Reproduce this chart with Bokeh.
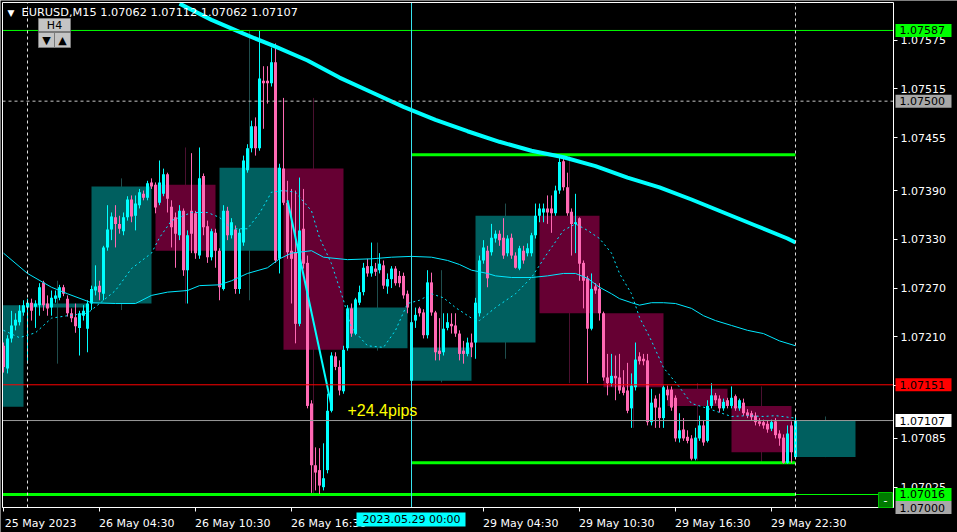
from bokeh.plotting import figure
from bokeh.models import (Range1d, FixedTicker, PrintfTickFormatter, Label,
                          BoxAnnotation, ColumnDataSource, LinearAxis)
from bokeh.embed import file_html
from bokeh.resources import INLINE

# ---------------- data (M15 bars, index 0 = 25 May 22:30) ----------------
bar_index = list(range(199))
open_ = [
 1.07199,1.07171,1.07208,1.07224,1.07228,1.07240,1.07246,1.07252,1.07247,1.07249,
 1.07277,1.07251,1.07246,1.07257,1.07258,1.07271,1.07257,1.07239,1.07234,1.07221,
 1.07236,1.07220,1.07251,1.07267,1.07273,1.07263,1.07320,1.07342,1.07357,1.07349,
 1.07340,1.07357,1.07379,1.07359,1.07372,1.07386,1.07381,1.07400,1.07397,1.07375,
 1.07386,1.07410,1.07370,1.07357,1.07335,1.07365,1.07292,1.07365,1.07362,1.07310,
 1.07408,1.07346,1.07308,1.07338,1.07316,1.07269,1.07365,1.07335,1.07342,1.07269,
 1.07326,1.07415,1.07442,1.07469,1.07442,1.07525,1.07525,1.07522,1.07548,1.07306,
 1.07417,1.07375,1.07316,1.07314,1.07226,1.07343,1.07301,1.07128,1.07052,1.07046,
 1.07025,1.07046,1.07119,1.07186,1.07173,1.07143,1.07196,1.07245,1.07214,1.07252,
 1.07265,1.07297,1.07288,1.07294,1.07292,1.07298,1.07272,1.07281,1.07294,1.07285,
 1.07285,1.07263,1.07156,1.07230,1.07245,1.07240,1.07212,1.07277,1.07240,1.07193,
 1.07191,1.07221,1.07226,1.07224,1.07214,1.07193,1.07189,1.07203,1.07203,1.07239,
 1.07304,1.07316,1.07314,1.07331,1.07337,1.07332,1.07313,1.07332,1.07310,1.07294,
 1.07316,1.07313,1.07313,1.07335,1.07359,1.07363,1.07368,1.07368,1.07362,1.07390,
 1.07426,1.07394,1.07364,1.07349,1.07356,1.07301,1.07282,1.07220,1.07272,1.07269,
 1.07239,1.07160,1.07153,1.07162,1.07160,1.07148,1.07144,1.07122,1.07148,1.07186,
 1.07183,1.07181,1.07105,1.07134,1.07123,1.07110,1.07145,1.07145,1.07135,1.07085,
 1.07096,1.07087,1.07085,1.07060,1.07085,1.07101,1.07082,1.07125,1.07138,1.07134,
 1.07122,1.07132,1.07125,1.07137,1.07122,1.07129,1.07117,1.07116,1.07113,1.07106,
 1.07105,1.07103,1.07097,1.07106,1.07091,1.07086,1.07055,1.07101,1.07062]
high_ = [
 1.07203,1.07212,1.07242,1.07239,1.07249,1.07255,1.07257,1.07257,1.07255,1.07276,
 1.07279,1.07261,1.07267,1.07267,1.07274,1.07274,1.07261,1.07245,1.07251,1.07242,
 1.07249,1.07255,1.07273,1.07298,1.07279,1.07322,1.07372,1.07363,1.07372,1.07359,
 1.07363,1.07383,1.07384,1.07384,1.07392,1.07390,1.07402,1.07405,1.07400,1.07427,
 1.07417,1.07412,1.07378,1.07363,1.07372,1.07368,1.07341,1.07436,1.07365,1.07443,
 1.07411,1.07353,1.07343,1.07343,1.07319,1.07372,1.07370,1.07356,1.07347,1.07343,
 1.07433,1.07447,1.07476,1.07480,1.07587,1.07543,1.07543,1.07566,1.07571,1.07423,
 1.07504,1.07402,1.07392,1.07390,1.07406,1.07392,1.07310,1.07132,1.07074,1.07073,
 1.07079,1.07140,1.07191,1.07191,1.07181,1.07199,1.07249,1.07251,1.07258,1.07273,
 1.07301,1.07306,1.07326,1.07301,1.07313,1.07304,1.07288,1.07297,1.07297,1.07291,
 1.07289,1.07267,1.07233,1.07246,1.07247,1.07244,1.07292,1.07289,1.07242,1.07233,
 1.07239,1.07239,1.07239,1.07239,1.07218,1.07205,1.07209,1.07214,1.07258,1.07310,
 1.07329,1.07322,1.07349,1.07341,1.07341,1.07356,1.07335,1.07337,1.07314,1.07322,
 1.07322,1.07325,1.07338,1.07374,1.07374,1.07374,1.07384,1.07384,1.07396,1.07434,
 1.07431,1.07412,1.07368,1.07386,1.07357,1.07304,1.07285,1.07288,1.07276,1.07276,
 1.07241,1.07189,1.07189,1.07187,1.07189,1.07169,1.07178,1.07165,1.07203,1.07191,
 1.07189,1.07189,1.07146,1.07138,1.07140,1.07150,1.07150,1.07149,1.07138,1.07116,
 1.07110,1.07095,1.07089,1.07098,1.07113,1.07107,1.07132,1.07153,1.07141,1.07138,
 1.07134,1.07135,1.07149,1.07139,1.07134,1.07134,1.07121,1.07119,1.07117,1.07110,
 1.07108,1.07107,1.07108,1.07110,1.07095,1.07090,1.07101,1.07106,1.07112]
low_ = [
 1.07166,1.07165,1.07203,1.07218,1.07224,1.07236,1.07177,1.07230,1.07221,1.07236,
 1.07242,1.07236,1.07236,1.07252,1.07255,1.07260,1.07235,1.07228,1.07215,1.07187,
 1.07230,1.07191,1.07243,1.07261,1.07255,1.07255,1.07316,1.07329,1.07320,1.07337,
 1.07335,1.07353,1.07351,1.07341,1.07368,1.07378,1.07378,1.07392,1.07362,1.07372,
 1.07383,1.07363,1.07320,1.07295,1.07329,1.07285,1.07251,1.07313,1.07306,1.07306,
 1.07335,1.07301,1.07304,1.07295,1.07255,1.07267,1.07329,1.07331,1.07263,1.07263,
 1.07322,1.07412,1.07437,1.07433,1.07439,1.07466,1.07497,1.07518,1.07301,1.07288,
 1.07372,1.07306,1.07251,1.07202,1.07223,1.07294,1.07122,1.07018,1.07021,1.07016,
 1.07021,1.07042,1.07117,1.07169,1.07138,1.07140,1.07193,1.07210,1.07212,1.07249,
 1.07261,1.07284,1.07284,1.07285,1.07288,1.07269,1.07263,1.07270,1.07273,1.07271,
 1.07257,1.07239,1.07154,1.07221,1.07235,1.07208,1.07208,1.07236,1.07181,1.07181,
 1.07187,1.07218,1.07214,1.07210,1.07181,1.07177,1.07186,1.07185,1.07183,1.07235,
 1.07300,1.07271,1.07310,1.07326,1.07322,1.07306,1.07309,1.07306,1.07294,1.07292,
 1.07300,1.07309,1.07309,1.07331,1.07351,1.07351,1.07349,1.07338,1.07359,1.07386,
 1.07390,1.07359,1.07310,1.07313,1.07279,1.07245,1.07153,1.07218,1.07263,1.07230,
 1.07156,1.07138,1.07149,1.07132,1.07140,1.07138,1.07116,1.07098,1.07144,1.07176,
 1.07175,1.07101,1.07101,1.07098,1.07098,1.07098,1.07132,1.07119,1.07081,1.07080,
 1.07082,1.07079,1.07058,1.07058,1.07082,1.07076,1.07080,1.07122,1.07128,1.07117,
 1.07119,1.07122,1.07122,1.07119,1.07119,1.07113,1.07110,1.07107,1.07101,1.07100,
 1.07097,1.07092,1.07094,1.07085,1.07076,1.07054,1.07054,1.07055,1.07062]
close_ = [
 1.07173,1.07208,1.07224,1.07231,1.07242,1.07249,1.07252,1.07242,1.07251,1.07271,
 1.07249,1.07245,1.07258,1.07261,1.07271,1.07263,1.07239,1.07233,1.07223,1.07239,
 1.07242,1.07251,1.07269,1.07272,1.07265,1.07320,1.07342,1.07358,1.07349,1.07343,
 1.07357,1.07379,1.07358,1.07374,1.07388,1.07381,1.07399,1.07395,1.07369,1.07400,
 1.07410,1.07380,1.07345,1.07337,1.07365,1.07292,1.07335,1.07337,1.07313,1.07405,
 1.07345,1.07308,1.07340,1.07316,1.07271,1.07365,1.07335,1.07351,1.07269,1.07338,
 1.07427,1.07442,1.07469,1.07442,1.07528,1.07522,1.07522,1.07548,1.07304,1.07418,
 1.07375,1.07314,1.07306,1.07226,1.07341,1.07300,1.07125,1.07052,1.07043,1.07027,
 1.07036,1.07119,1.07187,1.07173,1.07144,1.07194,1.07245,1.07214,1.07256,1.07265,
 1.07295,1.07288,1.07297,1.07290,1.07300,1.07273,1.07281,1.07294,1.07276,1.07276,
 1.07261,1.07246,1.07228,1.07237,1.07239,1.07212,1.07277,1.07240,1.07191,1.07189,
 1.07220,1.07228,1.07223,1.07214,1.07189,1.07189,1.07203,1.07197,1.07252,1.07304,
 1.07320,1.07282,1.07332,1.07337,1.07329,1.07310,1.07331,1.07310,1.07295,1.07319,
 1.07304,1.07319,1.07335,1.07359,1.07368,1.07368,1.07363,1.07362,1.07390,1.07425,
 1.07394,1.07362,1.07349,1.07351,1.07300,1.07279,1.07220,1.07269,1.07267,1.07239,
 1.07160,1.07153,1.07162,1.07159,1.07144,1.07141,1.07119,1.07150,1.07182,1.07180,
 1.07180,1.07105,1.07129,1.07123,1.07110,1.07148,1.07138,1.07123,1.07085,1.07095,
 1.07085,1.07082,1.07060,1.07086,1.07101,1.07080,1.07125,1.07138,1.07132,1.07122,
 1.07130,1.07125,1.07135,1.07122,1.07132,1.07116,1.07113,1.07111,1.07105,1.07103,
 1.07101,1.07096,1.07105,1.07089,1.07085,1.07055,1.07091,1.07068,1.07107]

# H4 candles drawn as boxes (bar-index span)
h4_start = [-10, 6, 22, 38, 54, 70, 86, 102, 118, 134, 150, 166, 182, 198]
h4_end = [5, 21, 37, 53, 69, 85, 101, 117, 133, 149, 165, 181, 197, 213]
h4_open = [1.07124, 1.07246, 1.07251, 1.07397, 1.07316, 1.07417, 1.07196,
           1.07156, 1.07203, 1.07359, 1.07239, 1.07146, 1.07125, 1.07062]
h4_close = [1.07249, 1.07251, 1.07395, 1.07316, 1.07418, 1.07194, 1.07246,
            1.07197, 1.07359, 1.07239, 1.07148, 1.07125, 1.07068, 1.07107]
h4_high = [1.07257, 1.07279, 1.07405, 1.07443, 1.07587, 1.07504, 1.07326,
           1.07292, 1.07374, 1.07434, 1.07203, 1.07153, 1.07149, 1.07112]
h4_low = [1.07118, 1.07177, 1.07243, 1.07251, 1.07255, 1.07016, 1.07193,
          1.07154, 1.07183, 1.07153, 1.07098, 1.07058, 1.07054, 1.07062]

# moving averages (bar index, value)
ma_slow_idx = [44, 52, 60, 68, 76, 84, 92, 100, 108, 116, 124, 132, 140,
               148, 156, 164, 172, 180, 188, 196, 198]
ma_slow = [1.07620, 1.07600, 1.07583, 1.07567, 1.07550, 1.07529, 1.07511,
           1.07493, 1.07477, 1.07463, 1.07450, 1.07439, 1.07431, 1.07420, 1.07406,
           1.07394, 1.07379, 1.07363, 1.07347, 1.07331, 1.07326]
ma_mid_idx = [0, 6, 12, 16, 22, 28, 33, 37, 41, 46, 49, 54, 57, 61, 66, 69, 72, 77,
              80, 86, 92, 97, 102, 107, 111, 114, 117, 121, 123, 127, 132, 136, 140,
              143, 146, 149, 152, 154, 157, 159, 162, 165, 168, 172, 175, 178, 182,
              186, 190, 194, 198]
ma_mid = [1.07313, 1.07288, 1.07271, 1.07263, 1.07252, 1.07251, 1.07251, 1.07261,
          1.07265, 1.07267, 1.07273, 1.07274, 1.07279, 1.07288, 1.07295, 1.07306,
          1.07313, 1.07316, 1.07308, 1.07305, 1.07306, 1.07308, 1.07309, 1.07308,
          1.07304, 1.07299, 1.07292, 1.07288, 1.07285, 1.07283, 1.07283, 1.07285,
          1.07288, 1.07288, 1.07282, 1.07271, 1.07263, 1.07257, 1.07252, 1.07249,
          1.07252, 1.07252, 1.07251, 1.07245, 1.07236, 1.07230, 1.07224, 1.07218,
          1.07214, 1.07205, 1.07199]
ma_fast_idx = [0, 4, 8, 12, 16, 21, 24, 28, 32, 37, 39, 42, 47, 51, 54, 57, 61, 64,
               67, 70, 73, 77, 79, 82, 85, 87, 91, 95, 98, 101, 104, 107, 110, 113,
               117, 119, 123, 128, 132, 136, 140, 143, 146, 149, 152, 154, 157, 159,
               162, 165, 169, 172, 176, 179, 182, 186, 190, 193, 198]
ma_fast = [1.07218, 1.07209, 1.07215, 1.07233, 1.07236, 1.07239, 1.07251, 1.07267,
           1.07294, 1.07313, 1.07332, 1.07353, 1.07363, 1.07363, 1.07357, 1.07343,
           1.07343, 1.07362, 1.07388, 1.07390, 1.07388, 1.07365, 1.07332, 1.07300,
           1.07255, 1.07221, 1.07199, 1.07197, 1.07218, 1.07251, 1.07255, 1.07263,
           1.07258, 1.07246, 1.07233, 1.07230, 1.07246, 1.07263, 1.07283, 1.07313,
           1.07341, 1.07349, 1.07341, 1.07331, 1.07313, 1.07288, 1.07263, 1.07234,
           1.07205, 1.07172, 1.07148, 1.07128, 1.07122, 1.07117, 1.07112, 1.07113,
           1.07112, 1.07113, 1.07110]

# drawn objects
zz_idx = [71, 82]
zz_price = [1.07378, 1.07125]
pips_text = "+24.4pips"
pips_idx, pips_price = 86, 1.07119
day_high_prev, day_low_prev = 1.07587, 1.07016
day_high_cur, day_low_cur = 1.07434, 1.07055
level_500 = [1.07500, 1.07000]
alert_price = 1.07151
bid_price = 1.07107
day_sep_idx = [6, 198]
cursor_idx = 102
cursor_text = "2023.05.29 00:00"
symbol_text = "EURUSD,M15  1.07062 1.07112 1.07062 1.07107"

# axes ticks
price_ticks = [1.07025, 1.07085, 1.07150, 1.07210, 1.07270, 1.07330, 1.07390,
               1.07455, 1.07515, 1.07575]
time_ticks = [0, 24, 48, 72, 120, 144, 168, 192]
time_labels = ["25 May 2023", "26 May 04:30", "26 May 10:30", "26 May 16:30",
               "29 May 04:30", "29 May 10:30", "29 May 16:30", "29 May 22:30"]
tag_prices = [1.07587, 1.07500, 1.07151, 1.07107, 1.07016, 1.07000]
tag_colors = ["#00ff00", "#a8a8a8", "#ff0000", "#ffffff", "#00ff00", "#a8a8a8"]

# ---------------- layout constants ----------------
W, H = 957, 532
PX = 1.2304e-5                 # price per pixel
CHART_Y0, CHART_Y1 = 1.07000, 1.076214   # price at chart bottom / top
CHART_X0, CHART_X1 = -0.25, 222.5         # bar index at chart left / right
LABEL_SHIFT = 9.3              # MT4 time labels start at their tick
BULL, BEAR = "#00ffff", "#ff69b4"
TEAL, MAROON = "#005f5f", "#660033"
TEAL_W, MAROON_W = "#1f4d4d", "#4a1030"
FONT = "DejaVu Sans"

p = figure(frame_width=W, frame_height=H,
           x_range=Range1d(-0.75, (W - 3) / 4.0),
           y_range=Range1d(CHART_Y0 - 25 * PX, CHART_Y1 + 2 * PX),
           output_backend="svg", toolbar_location=None,
           x_axis_type=None, y_axis_type=None,
           min_border=0, background_fill_color="black",
           border_fill_color="black", outline_line_color=None)
p.grid.visible = False

def style_axis(ax):
    ax.axis_line_color = "white"
    ax.major_tick_line_color = "white"
    ax.major_tick_out = 4
    ax.major_tick_in = 0
    ax.minor_tick_line_color = None
    ax.major_label_text_color = "white"
    ax.major_label_text_font = FONT
    ax.major_label_text_font_size = "11px"

yax = LinearAxis(fixed_location=CHART_X1, bounds=(CHART_Y0, CHART_Y1),
                 ticker=FixedTicker(ticks=price_ticks),
                 formatter=PrintfTickFormatter(format="%.5f"))
style_axis(yax)
yax.major_label_standoff = 3
p.add_layout(yax, "right")

label_pos = [t + LABEL_SHIFT for t in time_ticks]
xax = LinearAxis(fixed_location=CHART_Y0, bounds=(CHART_X0, CHART_X1),
                 ticker=FixedTicker(ticks=label_pos, minor_ticks=time_ticks))
style_axis(xax)
xax.major_label_overrides = {lp: s for lp, s in zip(label_pos, time_labels)}
xax.major_tick_line_color = None
xax.minor_tick_line_color = "white"
xax.minor_tick_out = 4
xax.minor_tick_in = 0
xax.major_label_standoff = 5
p.add_layout(xax, "below")

# H4 boxes
h4 = ColumnDataSource(dict(
    left=[max(s, CHART_X0) for s in h4_start], right=h4_end,
    top=[max(o, c) for o, c in zip(h4_open, h4_close)],
    bottom=[min(o, c) for o, c in zip(h4_open, h4_close)],
    mid=[(s + e) / 2 for s, e in zip(h4_start, h4_end)],
    high=h4_high, low=h4_low,
    color=[TEAL if c > o else MAROON for o, c in zip(h4_open, h4_close)],
    wcolor=[TEAL_W if c > o else MAROON_W for o, c in zip(h4_open, h4_close)]))
p.segment(x0="mid", y0="high", x1="mid", y1="low", line_color="wcolor",
          line_width=1, source=h4)
p.quad(left="left", right="right", top="top", bottom="bottom",
       fill_color="color", line_color=None, source=h4)

# thick day high/low lines
p.segment(x0=[cursor_idx, cursor_idx, CHART_X0],
          y0=[day_high_cur, day_low_cur, day_low_prev],
          x1=[198, 198, 198], y1=[day_high_cur, day_low_cur, day_low_prev],
          line_color="#00ff00", line_width=3)

# candles
src = ColumnDataSource(dict(
    x=bar_index,
    top=[max(o, c) for o, c in zip(open_, close_)],
    bottom=[min(o, c) for o, c in zip(open_, close_)],
    high=high_, low=low_,
    color=[BULL if c >= o else BEAR for o, c in zip(open_, close_)]))
p.segment(x0="x", y0="high", x1="x", y1="low", line_color="color", line_width=1,
          source=src)
p.vbar(x="x", width=0.75, top="top", bottom="bottom", fill_color="color",
       line_color=None, source=src)

# moving averages
p.line(ma_slow_idx, ma_slow, line_color="#00ffff", line_width=4)
p.line(ma_mid_idx, ma_mid, line_color="#00e8ff", line_width=1)
p.line(ma_fast_idx, ma_fast, line_color="#00e8ff", line_width=1, line_dash="2 3")
p.line(zz_idx, zz_price, line_color="#00ffff", line_width=2)

# horizontal lines across the chart
hl = [(day_high_prev, "#00ff00", None), (day_low_prev, "#00ff00", None),
      (alert_price, "#ff0000", None), (bid_price, "#9a9a9a", None),
      (level_500[0], "#c8c8c8", "3 3"), (level_500[1], "#c8c8c8", "3 3")]
for pr, col, dash in hl:
    kw = dict(line_dash=dash) if dash else {}
    p.segment(x0=[CHART_X0], y0=[pr], x1=[CHART_X1], y1=[pr], line_color=col,
              line_width=1, **kw)
# vertical lines
p.segment(x0=day_sep_idx, y0=[CHART_Y0] * 2, x1=day_sep_idx, y1=[CHART_Y1] * 2,
          line_color="#e0e0e0", line_width=1, line_dash="3 3")
p.segment(x0=[cursor_idx], y0=[CHART_Y0], x1=[cursor_idx], y1=[CHART_Y1],
          line_color="#38e2ee", line_width=1)
# chart frame (left and top edges; right/bottom are the axes)
p.segment(x0=[CHART_X0, CHART_X0], y0=[CHART_Y0, CHART_Y1],
          x1=[CHART_X0, CHART_X1], y1=[CHART_Y1, CHART_Y1],
          line_color="white", line_width=1)

# texts
p.add_layout(Label(x=pips_idx, y=pips_price, text=pips_text, text_color="#ffff00",
                   text_font="Liberation Sans", text_font_size="16px",
                   text_baseline="middle", text_align="left"))
p.add_layout(Label(x=7, y=H - 12, x_units="screen", y_units="screen", text="\u25BC",
                   text_color="white", text_font=FONT, text_font_size="9px",
                   text_baseline="middle"))
p.add_layout(Label(x=21, y=H - 12, x_units="screen", y_units="screen", text=symbol_text,
                   text_color="white", text_font=FONT, text_font_size="11.3px",
                   text_baseline="middle"))

# H4 buttons
for l, r, t, b in [(38, 70, H - 18, H - 31), (38, 54, H - 32, H - 47),
                   (54, 70, H - 32, H - 47)]:
    p.add_layout(BoxAnnotation(left=l, right=r, top=t, bottom=b, left_units="screen",
                               right_units="screen", top_units="screen",
                               bottom_units="screen", fill_color="#c4c4c4",
                               fill_alpha=1, line_color="#7a7a7a", line_alpha=1))
for x, y, s in [(54, H - 24.5, "H4"), (46, H - 39.5, "\u25BC"), (62, H - 39.5, "\u25B2")]:
    p.add_layout(Label(x=x, y=y, x_units="screen", y_units="screen", text=s,
                       text_color="black", text_font=FONT, text_font_size="11px",
                       text_align="center", text_baseline="middle"))

# small green button bottom-right
p.add_layout(BoxAnnotation(left=878, right=892, top=H - 492, bottom=H - 507,
                           left_units="screen", right_units="screen",
                           top_units="screen", bottom_units="screen",
                           fill_color="#007a00", fill_alpha=1,
                           line_color="#00c000", line_alpha=1))
p.add_layout(Label(x=885, y=H - 499.5, x_units="screen", y_units="screen", text="-",
                   text_color="white", text_font=FONT, text_font_size="11px",
                   text_align="center", text_baseline="middle"))

# price tags on the right axis
for pr, col in zip(tag_prices, tag_colors):
    p.add_layout(BoxAnnotation(left=895, right=951, left_units="screen",
                               right_units="screen", top=pr + 6.5 * PX,
                               bottom=pr - 6.5 * PX, fill_color=col, fill_alpha=1,
                               line_color=None))
    p.add_layout(Label(x=899, y=pr, x_units="screen", text="%.5f" % pr,
                       text_color="black", text_font=FONT, text_font_size="11px",
                       text_baseline="middle", text_align="left"))

# cursor date tag on time axis
p.add_layout(BoxAnnotation(left=356, right=465, top=H - 512, bottom=H - 526,
                           left_units="screen", right_units="screen",
                           top_units="screen", bottom_units="screen",
                           fill_color="#00ffff", fill_alpha=1, line_color=None))
p.add_layout(Label(x=cursor_idx, y=H - 519, y_units="screen", text=cursor_text,
                   text_color="black", text_font=FONT, text_font_size="11px",
                   text_baseline="middle", text_align="center"))

open("out.html", "w").write(file_html(p, INLINE))
